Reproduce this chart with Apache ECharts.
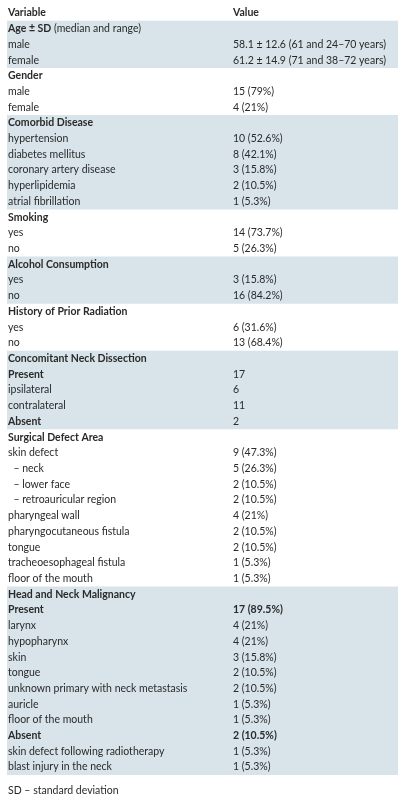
<!DOCTYPE html>
<html><head><meta charset="utf-8">
<script src="https://cdn.jsdelivr.net/npm/echarts@6/dist/echarts.min.js"></script>
<style>html,body{margin:0;padding:0;background:#fff}#c{width:406px;height:800px}</style>
</head><body><div id="c"></div>
<script>
const headers = ["Variable", "Value"];
const labels = ["Age ± SD","male","female","Gender","male","female","Comorbid Disease","hypertension","diabetes mellitus","coronary artery disease","hyperlipidemia","atrial fibrillation","Smoking","yes","no","Alcohol Consumption","yes","no","History of Prior Radiation","yes","no","Concomitant Neck Dissection","Present","ipsilateral","contralateral","Absent","Surgical Defect Area","skin defect","  – neck","  – lower face","  – retroauricular region","pharyngeal wall","pharyngocutaneous fistula","tongue","tracheoesophageal fistula","floor of the mouth","Head and Neck Malignancy","Present","larynx","hypopharynx","skin","tongue","unknown primary with neck metastasis","auricle","floor of the mouth","Absent","skin defect following radiotherapy","blast injury in the neck"];
const values = ["","58.1 ± 12.6 (61 and 24–70 years)","61.2 ± 14.9 (71 and 38–72 years)","","15 (79%)","4 (21%)","","10 (52.6%)","8 (42.1%)","3 (15.8%)","2 (10.5%)","1 (5.3%)","","14 (73.7%)","5 (26.3%)","","3 (15.8%)","16 (84.2%)","","6 (31.6%)","13 (68.4%)","","17","6","11","2","","9 (47.3%)","5 (26.3%)","2 (10.5%)","2 (10.5%)","4 (21%)","2 (10.5%)","2 (10.5%)","1 (5.3%)","1 (5.3%)","","17 (89.5%)","4 (21%)","4 (21%)","3 (15.8%)","2 (10.5%)","2 (10.5%)","1 (5.3%)","1 (5.3%)","2 (10.5%)","1 (5.3%)","1 (5.3%)"];
const boldLabels = [0,3,6,12,15,18,21,22,25,26,36,37,45];
const boldValues = [37,45];
const shadedBlocks = [[0,2],[6,11],[15,17],[21,25],[36,47]];
const footnote = "SD – standard deviation";

const top0 = 13, rh = 15.71, xL = 8, xV = 233, font = "Lato";
const chart = echarts.init(document.getElementById('c'), null, {renderer:'canvas'});
const els = [];
shadedBlocks.forEach(([a,b]) => {
  els.push({type:'rect', shape:{x:7, y:top0 + (a+1)*rh - rh/2, width:391, height:(b-a+1)*rh}, style:{fill:'#d8e4ea'}, z:0});
});
const txt = (x,y,t,bold) => els.push({type:'text', x, y, style:{text:t, fill:'#2a2a2a', font:(bold?'bold ':'')+'10.5px '+font, textVerticalAlign:'middle'}, z:2});
txt(xL, top0, headers[0], true); txt(xV, top0, headers[1], true);
labels.forEach((l,i) => {
  const y = top0 + (i+1)*rh;
  if (i === 0) {
    els.push({type:'text', x:xL, y, style:{rich:{b:{font:'bold 10.5px '+font, fill:'#2a2a2a'}, n:{font:'10.5px '+font, fill:'#2a2a2a'}}, text:'{b|'+l+'}{n| (median and range)}', textVerticalAlign:'middle'}, z:2});
  } else txt(xL, y, l, boldLabels.includes(i));
  if (values[i]) txt(xV, y, values[i], boldValues.includes(i));
});
txt(xL, 791, footnote, false);
chart.setOption({animation:false, graphic:{elements:els}});
</script></body></html>
